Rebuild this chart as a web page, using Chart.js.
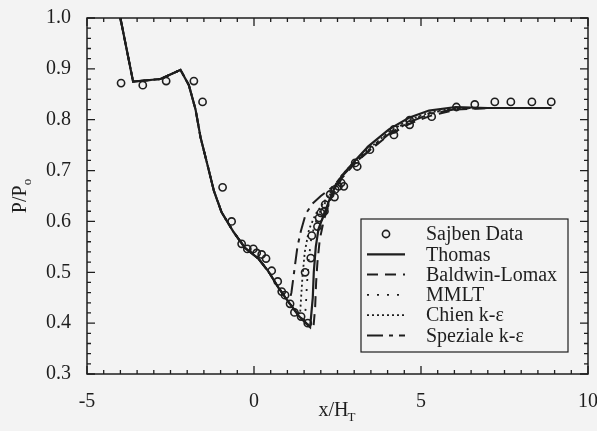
<!DOCTYPE html>
<html>
<head>
<meta charset="utf-8">
<script src="https://cdn.jsdelivr.net/npm/chart.js@4/dist/chart.umd.min.js"></script>
<style>
  body { margin: 0; background: #f3f3f3; }
  #wrap { width: 597px; height: 431px; }
</style>
</head>
<body>
<div id="wrap"><canvas id="pressureChart" width="597" height="431"></canvas></div>
<script>
// ---- data ----
const sajbenX = [-3.98, -3.33, -2.63, -1.80, -1.54, -0.94, -0.67, -0.37, -0.20, -0.02, 0.08, 0.23, 0.36, 0.53, 0.71, 0.83, 0.93, 1.08, 1.21, 1.41, 1.61,
                 1.53, 1.70, 1.73, 1.90, 1.95, 2.00, 2.11, 2.13, 2.28, 2.41, 2.43, 2.53, 2.61, 2.69, 3.03, 3.09, 3.47, 4.19, 4.19, 4.66, 4.66, 5.32,
                 6.06, 6.61, 7.21, 7.69, 8.32, 8.90];
const sajbenY = [0.872, 0.868, 0.876, 0.876, 0.835, 0.667, 0.600, 0.556, 0.546, 0.546, 0.538, 0.535, 0.527, 0.503, 0.482, 0.462, 0.455, 0.438, 0.421, 0.413, 0.400,
                 0.500, 0.528, 0.572, 0.590, 0.607, 0.617, 0.620, 0.633, 0.653, 0.648, 0.663, 0.669, 0.676, 0.669, 0.715, 0.708, 0.741, 0.770, 0.781, 0.790, 0.799, 0.806,
                 0.825, 0.830, 0.835, 0.835, 0.835, 0.835];

// part of the curve shared by all computations (nozzle entry to the shock foot)
const upstreamX = [-4.00, -3.62, -2.80, -2.20, -1.95, -1.75, -1.60, -1.40, -1.20, -0.97, -0.62, -0.27, 0.13, 0.43, 0.73];
const upstreamY = [1.000, 0.875, 0.880, 0.898, 0.868, 0.820, 0.765, 0.713, 0.660, 0.618, 0.580, 0.548, 0.527, 0.502, 0.470];

const thomasX = [1.03, 1.33, 1.58, 1.68, 1.76, 1.79, 1.85, 1.93, 2.10, 2.33, 2.63, 3.03, 3.43, 4.04, 4.64, 5.24, 6.04, 7.00, 8.90];
const thomasY = [0.442, 0.415, 0.398, 0.392, 0.450, 0.500, 0.550, 0.585, 0.615, 0.655, 0.690, 0.720, 0.748, 0.781, 0.804, 0.818, 0.825, 0.823, 0.823];

const baldwinX = [1.03, 1.33, 1.60, 1.78, 1.83, 1.86, 1.90, 1.97, 2.10, 2.30, 2.63, 3.03, 3.50, 4.04, 4.66, 5.30, 6.06, 7.00, 8.90];
const baldwinY = [0.442, 0.416, 0.398, 0.392, 0.430, 0.480, 0.520, 0.565, 0.605, 0.645, 0.685, 0.715, 0.742, 0.770, 0.792, 0.808, 0.820, 0.823, 0.823];

const mmltX = [1.03, 1.33, 1.50, 1.55, 1.58, 1.63, 1.72, 1.90, 2.20, 2.60, 3.03, 3.50, 4.04, 4.64, 5.30, 6.06, 7.00, 8.90];
const mmltY = [0.442, 0.415, 0.405, 0.430, 0.470, 0.520, 0.570, 0.610, 0.645, 0.685, 0.717, 0.745, 0.775, 0.798, 0.814, 0.822, 0.823, 0.823];

const chienX = [1.03, 1.20, 1.38, 1.41, 1.45, 1.52, 1.65, 1.85, 2.20, 2.60, 3.03, 3.50, 4.04, 4.64, 5.30, 6.06, 7.00, 8.90];
const chienY = [0.442, 0.428, 0.418, 0.450, 0.490, 0.540, 0.585, 0.615, 0.648, 0.688, 0.720, 0.746, 0.776, 0.800, 0.815, 0.823, 0.823, 0.823];

const spezialeX = [0.90, 1.05, 1.12, 1.20, 1.30, 1.40, 1.55, 1.75, 2.00, 2.30, 2.63, 3.03, 3.50, 4.04, 4.64, 5.30, 6.06, 7.00, 8.90];
const spezialeY = [0.455, 0.440, 0.460, 0.500, 0.550, 0.580, 0.615, 0.635, 0.650, 0.665, 0.688, 0.716, 0.742, 0.772, 0.795, 0.812, 0.821, 0.823, 0.823];

const xTicks = [-5, 0, 5, 10];
const yTicks = [0.3, 0.4, 0.5, 0.6, 0.7, 0.8, 0.9, 1.0];

const ink = "#1e1e1e";
const serif = "'Liberation Serif', 'Times New Roman', serif";

function pts(xs, ys) {
    return xs.map((x, i) => ({ x: x, y: ys[i] }));
}
function model(xs, ys) {
    return pts(upstreamX.concat(xs), upstreamY.concat(ys));
}

// =====================================
// frame, inward ticks, axis titles, legend box
// =====================================
const paperPlugin = {
    id: "paper",
    beforeDraw(chart) {
        const c = chart.ctx;
        c.save();
        c.fillStyle = "#f3f3f3";
        c.fillRect(0, 0, chart.width, chart.height);
        c.restore();
    },
    afterDraw(chart) {
        const c = chart.ctx;
        const a = chart.chartArea;
        const sx = chart.scales.x, sy = chart.scales.y;
        c.save();
        c.strokeStyle = ink;
        c.lineWidth = 1.5;
        c.setLineDash([]);
        c.strokeRect(a.left, a.top, a.right - a.left, a.bottom - a.top);

        // x ticks every 0.5, major every 5
        c.lineWidth = 1.3;
        for (let k = 0; k <= 30; k++) {
            const v = -5 + k * 0.5;
            const px = sx.getPixelForValue(v);
            const len = (k % 10 === 0) ? 8 : 4;
            c.beginPath();
            c.moveTo(px, a.bottom); c.lineTo(px, a.bottom - len);
            c.moveTo(px, a.top); c.lineTo(px, a.top + len);
            c.stroke();
        }
        // y ticks every 0.02, major every 0.1
        for (let k = 0; k <= 35; k++) {
            const v = 0.3 + k * 0.02;
            const py = sy.getPixelForValue(v);
            const len = (k % 5 === 0) ? 8 : 4;
            c.beginPath();
            c.moveTo(a.left, py); c.lineTo(a.left + len, py);
            c.moveTo(a.right, py); c.lineTo(a.right - len, py);
            c.stroke();
        }

        // axis titles with subscripts
        c.fillStyle = ink;
        c.textBaseline = "alphabetic";
        c.font = "20px " + serif;
        const xt = "x/H", xs = "T";
        c.font = "20px " + serif;
        const w1 = c.measureText(xt).width;
        c.font = "13px " + serif;
        const w2 = c.measureText(xs).width;
        const cx = (a.left + a.right) / 2 - (w1 + w2) / 2;
        c.font = "20px " + serif;
        c.textAlign = "left";
        c.fillText(xt, cx, 416);
        c.font = "13px " + serif;
        c.fillText(xs, cx + w1 - 1, 421);

        c.save();
        c.translate(26, (a.top + a.bottom) / 2);
        c.rotate(-Math.PI / 2);
        c.font = "20px " + serif;
        const yt = "P/P", ys = "o";
        const v1 = c.measureText(yt).width;
        c.font = "13px " + serif;
        const v2 = c.measureText(ys).width;
        const cy = -(v1 + v2) / 2;
        c.font = "20px " + serif;
        c.fillText(yt, cy, 0);
        c.font = "13px " + serif;
        c.fillText(ys, cy + v1, 5);
        c.restore();

        // legend
        const lx = a.left + 274, ly = a.top + 201, lw = 207, lh = 133;
        c.lineWidth = 1.2;
        c.strokeRect(lx, ly, lw, lh);
        c.font = "20px " + serif;
        c.textBaseline = "middle";
        chart.data.datasets.forEach((ds, i) => {
            const rowY = ly + 15 + i * 20.3;
            const x0 = lx + 6, x1 = lx + 44;
            c.strokeStyle = ds.borderColor;
            if (ds.showLine) {
                c.lineWidth = ds.borderWidth;
                c.setLineDash(ds.borderDash || []);
                c.beginPath();
                c.moveTo(x0, rowY); c.lineTo(x1, rowY);
                c.stroke();
            } else {
                c.lineWidth = 1.6;
                c.setLineDash([]);
                c.beginPath();
                c.arc((x0 + x1) / 2, rowY, 3.6, 0, Math.PI * 2);
                c.stroke();
            }
            c.setLineDash([]);
            c.fillText(ds.label, lx + 65, rowY + 1);
        });
        c.restore();
    }
};

new Chart(document.getElementById("pressureChart"), {
    type: "scatter",
    data: {
        datasets: [
            {
                label: "Sajben Data",
                data: pts(sajbenX, sajbenY),
                showLine: false,
                pointStyle: "circle",
                pointRadius: 3.6,
                borderWidth: 1.6,
                borderColor: ink,
                backgroundColor: "rgba(0,0,0,0)"
            },
            { label: "Thomas", data: model(thomasX, thomasY), showLine: true, borderColor: ink, borderWidth: 2.2, borderDash: [], pointRadius: 0 },
            { label: "Baldwin-Lomax", data: model(baldwinX, baldwinY), showLine: true, borderColor: ink, borderWidth: 2, borderDash: [11, 7], pointRadius: 0 },
            { label: "MMLT", data: model(mmltX, mmltY), showLine: true, borderColor: ink, borderWidth: 1.8, borderDash: [2, 8], pointRadius: 0 },
            { label: "Chien k-ε", data: model(chienX, chienY), showLine: true, borderColor: ink, borderWidth: 1.8, borderDash: [2, 3], pointRadius: 0 },
            { label: "Speziale k-ε", data: model(spezialeX, spezialeY), showLine: true, borderColor: ink, borderWidth: 2, borderDash: [16, 6, 4, 6], pointRadius: 0 }
        ]
    },
    options: {
        responsive: false,
        animation: false,
        layout: { padding: { top: 18, right: 9, left: 0, bottom: 0 } },
        plugins: { legend: { display: false }, tooltip: { enabled: false } },
        elements: { line: { tension: 0 } },
        scales: {
            x: {
                type: "linear",
                min: -5, max: 10,
                afterBuildTicks: s => { s.ticks = xTicks.map(v => ({ value: v })); },
                grid: { display: false },
                border: { display: false },
                ticks: { color: ink, padding: 8, font: { family: serif, size: 20 }, maxRotation: 0 },
                afterFit: s => { s.height = 57; s.paddingLeft = 0; s.paddingRight = 0; }
            },
            y: {
                type: "linear",
                min: 0.3, max: 1.0,
                afterBuildTicks: s => { s.ticks = yTicks.map(v => ({ value: v })); },
                grid: { display: false },
                border: { display: false },
                ticks: { color: ink, padding: 8, font: { family: serif, size: 20 }, callback: v => v.toFixed(1) },
                afterFit: s => { s.width = 87; s.paddingTop = 0; s.paddingBottom = 0; }
            }
        }
    },
    plugins: [paperPlugin]
});
</script>
</body>
</html>
